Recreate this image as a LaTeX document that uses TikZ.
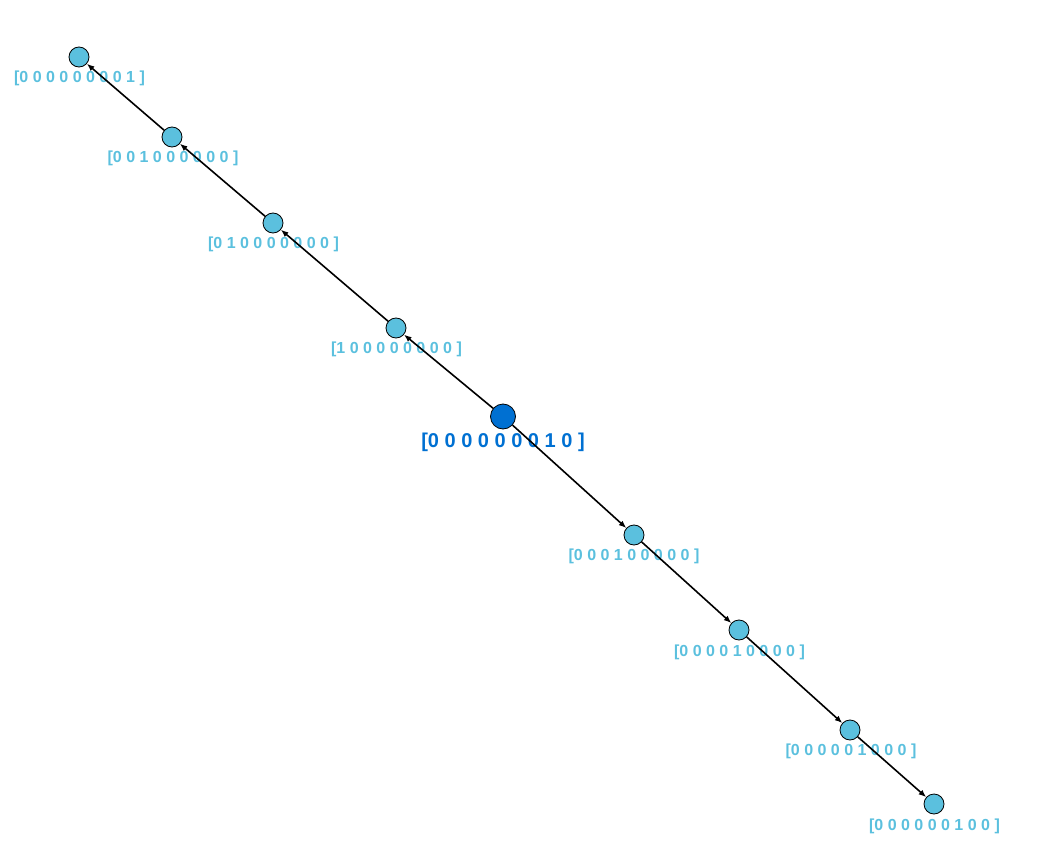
\documentclass[tikz,border=0pt]{standalone}
\usepackage{fontspec}
\setmainfont{Liberation Sans}
\usetikzlibrary{arrows.meta}
\definecolor{leafblue}{HTML}{5BC0DE}
\definecolor{rootblue}{HTML}{0070D2}
\begin{document}
\begin{tikzpicture}[x=1pt,y=-1pt,
    vtx/.style={circle,draw=black,line width=0.8pt,fill=leafblue,minimum size=20pt,inner sep=0pt},
    rootvtx/.style={vtx,fill=rootblue,minimum size=25pt},
    lbl/.style={font=\bfseries\fontsize{16}{16}\selectfont,text=leafblue,inner sep=0pt},
    rootlbl/.style={lbl,font=\bfseries\fontsize{20}{20}\selectfont,text=rootblue},
    edge/.style={-{Latex[length=7.5pt,width=6pt]},line width=1.6pt}]
  \useasboundingbox (0,0) rectangle (1045,864);
  % vertices
  \node[rootvtx] (c) at (503,416.5) {};
  \node[vtx] (u1) at (396,328) {};
  \node[vtx] (u2) at (273,223) {};
  \node[vtx] (u3) at (172,137) {};
  \node[vtx] (u4) at (79,57) {};
  \node[vtx] (d1) at (634,535) {};
  \node[vtx] (d2) at (739,630) {};
  \node[vtx] (d3) at (850,730) {};
  \node[vtx] (d4) at (934,804) {};
  % labels
  \node[rootlbl] (lc) at (503,442.5) {[0 0 0 0 0 0 0 1 0 ]};
  \node[lbl] (lu1) at (396.5,349.5) {[1 0 0 0 0 0 0 0 0 ]};
  \node[lbl] (lu2) at (273.5,244.5) {[0 1 0 0 0 0 0 0 0 ]};
  \node[lbl] (lu3) at (173,158.5) {[0 0 1 0 0 0 0 0 0 ]};
  \node[lbl] (lu4) at (79.5,78.5) {[0 0 0 0 0 0 0 0 1 ]};
  \node[lbl] (ld1) at (634,556.5) {[0 0 0 1 0 0 0 0 0 ]};
  \node[lbl] (ld2) at (739.5,652.5) {[0 0 0 0 1 0 0 0 0 ]};
  \node[lbl] (ld3) at (851,751.5) {[0 0 0 0 0 1 0 0 0 ]};
  \node[lbl] (ld4) at (934.5,826.5) {[0 0 0 0 0 0 1 0 0 ]};
  % edges
  \draw[edge] (c) -- (u1);
  \draw[edge] (u1) -- (u2);
  \draw[edge] (u2) -- (u3);
  \draw[edge] (u3) -- (u4);
  \draw[edge] (c) -- (d1);
  \draw[edge] (d1) -- (d2);
  \draw[edge] (d2) -- (d3);
  \draw[edge] (d3) -- (d4);
\end{tikzpicture}
\end{document}
